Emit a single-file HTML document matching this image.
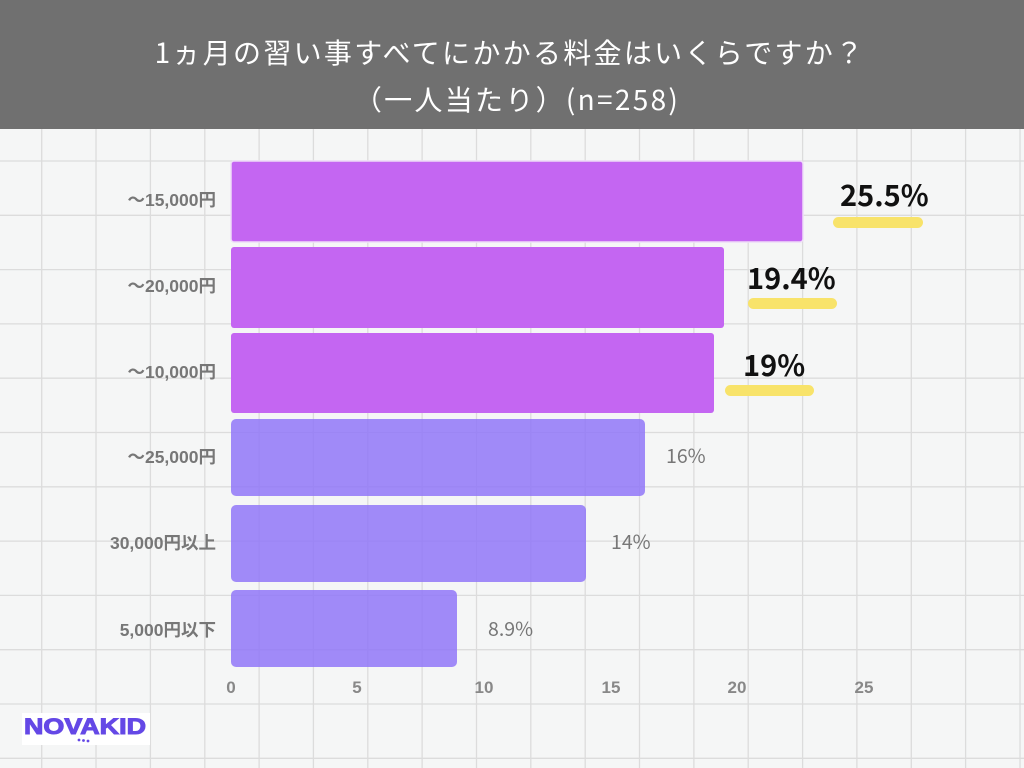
<!DOCTYPE html>
<html>
<head>
<meta charset="utf-8">
<style>
html,body{margin:0;padding:0;background:#f5f6f6;}
svg{display:block;}
</style>
</head>
<body>
<svg width="1024" height="768" viewBox="0 0 1024 768" xmlns="http://www.w3.org/2000/svg">
  <rect x="0" y="0" width="1024" height="768" fill="#f5f6f6"/>
  <!-- grid -->
  <g stroke="#dcdcdc" stroke-width="1.3">
    <line x1="41.7" y1="0" x2="41.7" y2="768"/>
    <line x1="96" y1="0" x2="96" y2="768"/>
    <line x1="150.4" y1="0" x2="150.4" y2="768"/>
    <line x1="204.8" y1="0" x2="204.8" y2="768"/>
    <line x1="259.1" y1="0" x2="259.1" y2="768"/>
    <line x1="313.4" y1="0" x2="313.4" y2="768"/>
    <line x1="367.8" y1="0" x2="367.8" y2="768"/>
    <line x1="422.1" y1="0" x2="422.1" y2="768"/>
    <line x1="476.5" y1="0" x2="476.5" y2="768"/>
    <line x1="530.8" y1="0" x2="530.8" y2="768"/>
    <line x1="585.2" y1="0" x2="585.2" y2="768"/>
    <line x1="639.5" y1="0" x2="639.5" y2="768"/>
    <line x1="693.9" y1="0" x2="693.9" y2="768"/>
    <line x1="748.2" y1="0" x2="748.2" y2="768"/>
    <line x1="802.6" y1="0" x2="802.6" y2="768"/>
    <line x1="856.9" y1="0" x2="856.9" y2="768"/>
    <line x1="911.3" y1="0" x2="911.3" y2="768"/>
    <line x1="965.6" y1="0" x2="965.6" y2="768"/>
    <line x1="1020" y1="0" x2="1020" y2="768"/>
    <line x1="0" y1="161" x2="1024" y2="161"/>
    <line x1="0" y1="215.3" x2="1024" y2="215.3"/>
    <line x1="0" y1="269.6" x2="1024" y2="269.6"/>
    <line x1="0" y1="323.9" x2="1024" y2="323.9"/>
    <line x1="0" y1="378.2" x2="1024" y2="378.2"/>
    <line x1="0" y1="432.5" x2="1024" y2="432.5"/>
    <line x1="0" y1="486.8" x2="1024" y2="486.8"/>
    <line x1="0" y1="541.1" x2="1024" y2="541.1"/>
    <line x1="0" y1="595.4" x2="1024" y2="595.4"/>
    <line x1="0" y1="649.7" x2="1024" y2="649.7"/>
    <line x1="0" y1="704" x2="1024" y2="704"/>
    <line x1="0" y1="758.3" x2="1024" y2="758.3"/>
  </g>

  <!-- title band -->
  <rect x="0" y="0" width="1024" height="129" fill="#707070"/>
  <g fill="#ffffff" font-family="'Noto Sans CJK JP',sans-serif" font-size="28" text-anchor="middle" letter-spacing="2.3" font-weight="normal">
    <text x="510" y="63">1ヵ月の習い事すべてにかかる料金はいくらですか？</text>
    <text x="517" y="110">（一人当たり）(n=258)</text>
  </g>

  <!-- bars -->
  <g>
    <rect x="231" y="161" width="572" height="81" rx="3" fill="#c466f2" stroke="#eedcf8" stroke-width="1.5"/>
    <rect x="231" y="247" width="493" height="81" rx="3" fill="#c466f2"/>
    <rect x="231" y="333" width="483" height="80" rx="3" fill="#c466f2"/>
    <rect x="231" y="419" width="414" height="77" rx="5" fill="rgba(145,119,248,0.85)"/>
    <rect x="231" y="505" width="355" height="77" rx="5" fill="rgba(145,119,248,0.85)"/>
    <rect x="231" y="590" width="226" height="77" rx="5" fill="rgba(145,119,248,0.85)"/>
  </g>

  <!-- category labels -->
  <g fill="#777777" font-family="'Liberation Sans','Noto Sans CJK JP',sans-serif" font-size="17.5" font-weight="bold" text-anchor="end">
    <text x="216" y="206">〜15,000円</text>
    <text x="216" y="292">〜20,000円</text>
    <text x="216" y="378">〜10,000円</text>
    <text x="216" y="463">〜25,000円</text>
    <text x="216" y="549">30,000円以上</text>
    <text x="216" y="636">5,000円以下</text>
  </g>

  <!-- highlight underlines -->
  <g fill="#f8e36a">
    <rect x="833" y="217" width="90" height="11" rx="5.5"/>
    <rect x="748" y="298" width="89" height="11" rx="5.5"/>
    <rect x="725" y="385" width="89" height="11" rx="5.5"/>
  </g>

  <!-- big value labels -->
  <g fill="#111111" font-family="'Noto Sans CJK JP','Liberation Sans',sans-serif" font-size="29" font-weight="bold">
    <text x="840" y="206">25.5%</text>
    <text x="747" y="289">19.4%</text>
    <text x="743" y="376">19%</text>
  </g>

  <!-- small value labels -->
  <g fill="#777777" font-family="'Noto Sans CJK JP','Liberation Sans',sans-serif" font-size="19.5">
    <text x="666" y="463">16%</text>
    <text x="611" y="549">14%</text>
    <text x="488" y="636">8.9%</text>
  </g>

  <!-- x ticks -->
  <g fill="#888888" font-family="'Liberation Sans',sans-serif" font-size="17" font-weight="bold" text-anchor="middle">
    <text x="231" y="693">0</text>
    <text x="357" y="693">5</text>
    <text x="484" y="693">10</text>
    <text x="611" y="693">15</text>
    <text x="737" y="693">20</text>
    <text x="864" y="693">25</text>
  </g>

  <!-- logo -->
  <rect x="22" y="713" width="128" height="32" fill="#ffffff"/>
  <text x="24" y="734" fill="#6448e6" stroke="#6448e6" stroke-width="1" font-family="'Liberation Sans',sans-serif" font-size="22" font-weight="bold" textLength="122" lengthAdjust="spacingAndGlyphs">NOVAKID</text>
  <g fill="#6448e6">
    <circle cx="79" cy="740" r="1.4"/>
    <circle cx="83.5" cy="740.5" r="1.4"/>
    <circle cx="88" cy="741" r="1.4"/>
  </g>
</svg>
</body>
</html>
